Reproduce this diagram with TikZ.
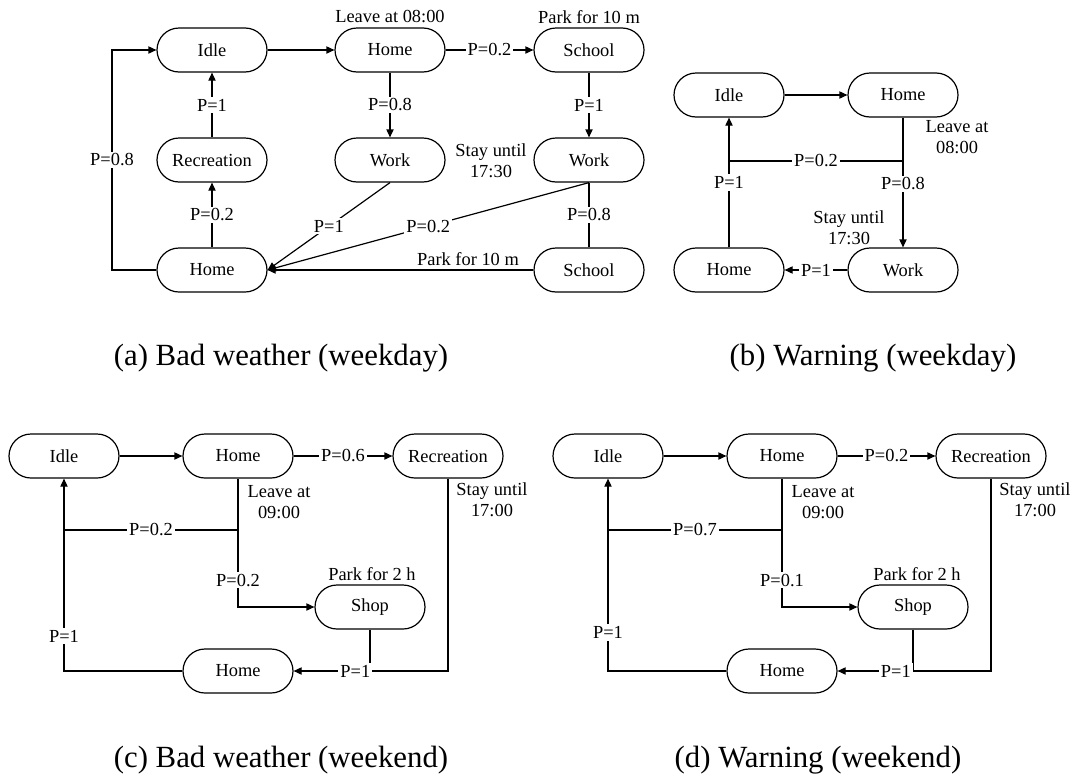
\documentclass[tikz,border=0pt]{standalone}
\usepackage{fontspec}
\setmainfont{Liberation Serif}
\usetikzlibrary{arrows.meta, positioning}

\begin{document}
\begin{tikzpicture}[
    x=0.5pt, y=-0.5pt,
    line width=0.6pt,
    loc/.style={rectangle, draw, rounded corners=11pt, minimum width=55pt, minimum height=22pt, inner sep=0pt, font=\fontsize{9.2}{10.5}\selectfont},
    note/.style={align=center, inner sep=0pt, font=\fontsize{9.2}{10.5}\selectfont},
    prob/.style={fill=white, inner sep=1pt, font=\fontsize{9.2}{10.5}\selectfont},
    figcap/.style={inner sep=0pt, font=\fontsize{15.4}{18}\selectfont},
    arrow/.style={-{Triangle[length=4pt,width=3.6pt]}}
]
\useasboundingbox (0,0) rectangle (1072,782);

% (a) Bad weather (weekday)
\node (idleA) [loc] at (212,50) {Idle};
\node (homeA) [loc] at (390,50) {Home};
\node (schoolA) [loc] at (589,50) {School};
\node (recA) [loc] at (212,160) {Recreation};
\node (workA) [loc] at (390,160) {Work};
\node (workA2) [loc] at (589,160) {Work};
\node (homeA2) [loc] at (212,270) {Home};
\node (schoolA2) [loc] at (589,270) {School};
\node (leaveA) [note] at (390,17) {Leave at 08:00};
\node (parkA) [note] at (589,17) {Park for 10 m};
\node (stayA) [note] at (491,161) {Stay until\\17:30};
\node (parkA2) [note] at (468,259) {Park for 10 m};
\coordinate (cornA) at (112,270);

\draw [arrow] (idleA) -- (homeA);
\draw [arrow] (homeA) -- node [prob] {P=0.2} (schoolA);
\draw [arrow] (homeA) -- node [prob] {P=0.8} (workA);
\draw [arrow] (schoolA) -- node [prob] {P=1} (workA2);
\draw (workA2) -- node [prob] {P=0.8} (schoolA2);
\draw [arrow] (recA) -- node [prob] {P=1} (idleA);
\draw [arrow] (homeA2) -- node [prob] {P=0.2} (recA);
\draw [arrow] (workA.south) -- node [prob] {P=1} (homeA2.east);
\draw [arrow] (workA2.south) -- node [prob] {P=0.2} (homeA2.east);
\draw [arrow] (schoolA2) -- (homeA2);
\draw [arrow] (homeA2.west) -- (cornA) |- node [prob, pos=0.25] {P=0.8} (idleA.west);

% (b) Warning (weekday)
\node (idleB) [loc] at (729,95) {Idle};
\node (homeB) [loc] at (903,95) {Home};
\node (homeB2) [loc] at (729,270) {Home};
\node (workB) [loc] at (903,270) {Work};
\node (leaveB) [note] at (957,137) {Leave at\\08:00};
\node (stayB) [note] at (849,228) {Stay until\\17:30};
\coordinate (splitB) at (903,161);

\draw [arrow] (idleB) -- (homeB);
\draw [arrow] (homeB) -- node [prob, pos=0.51] {P=0.8} (workB);
\draw (splitB) -- node [prob] {P=0.2} (splitB -| idleB);
\draw [arrow] (homeB2) -- node [prob] {P=1} (idleB);
\draw [arrow] (workB) -- node [prob] {P=1} (homeB2);

% (c) Bad weather (weekend)
\node (idleC) [loc] at (64,456) {Idle};
\node (homeC) [loc] at (238,456) {Home};
\node (recC) [loc] at (448,456) {Recreation};
\node (shopC) [loc] at (370,607) {Shop};
\node (homeC2) [loc] at (238,671) {Home};
\node (leaveC) [note] at (279,502) {Leave at\\09:00};
\node (parkC) [note] at (372,574) {Park for 2 h};
\node (stayC) [note] at (492,500) {Stay until\\17:00};
\coordinate (splitC) at (238,530);

\draw [arrow] (idleC) -- (homeC);
\draw [arrow] (homeC) -- node [prob] {P=0.6} (recC);
\draw [arrow] (homeC) |- node [prob, pos=0.395] {P=0.2} (shopC);
\draw (splitC) -- node [prob] {P=0.2} (splitC -| idleC);
\draw (shopC) -- (shopC |- homeC2);
\draw [arrow] (recC) |- node [prob, pos=0.8] {P=1} (homeC2);
\draw [arrow] (homeC2) -| node [prob, pos=0.59] {P=1} (idleC);

% (d) Warning (weekend)
\node (idleD) [loc] at (608,456) {Idle};
\node (homeD) [loc] at (782,456) {Home};
\node (recD) [loc] at (991,456) {Recreation};
\node (shopD) [loc] at (913,607) {Shop};
\node (homeD2) [loc] at (782,671) {Home};
\node (leaveD) [note] at (823,502) {Leave at\\09:00};
\node (parkD) [note] at (917,574) {Park for 2 h};
\node (stayD) [note] at (1035,500) {Stay until\\17:00};
\coordinate (splitD) at (782,530);

\draw [arrow] (idleD) -- (homeD);
\draw [arrow] (homeD) -- node [prob] {P=0.2} (recD);
\draw [arrow] (homeD) |- node [prob, pos=0.395] {P=0.1} (shopD);
\draw (splitD) -- node [prob] {P=0.7} (splitD -| idleD);
\draw (shopD) -- (shopD |- homeD2);
\draw [arrow] (recD) |- node [prob, pos=0.81] {P=1} (homeD2);
\draw [arrow] (homeD2) -| node [prob, pos=0.6] {P=1} (idleD);

% Captions
\node (capA) [figcap] at (281,358) {(a) Bad weather (weekday)};
\node (capB) [figcap] at (873,358) {(b) Warning (weekday)};
\node (capC) [figcap] at (281,760) {(c) Bad weather (weekend)};
\node (capD) [figcap] at (818,760) {(d) Warning (weekend)};

\end{tikzpicture}
\end{document}
